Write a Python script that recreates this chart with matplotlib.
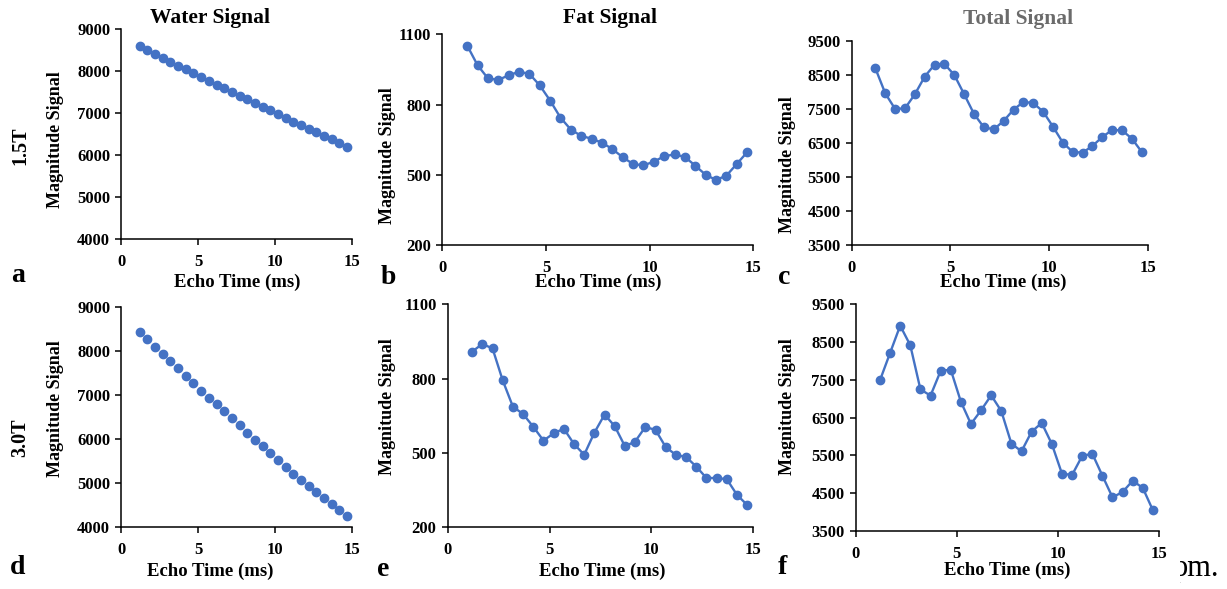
import matplotlib
matplotlib.use("Agg")
import matplotlib.pyplot as plt
from matplotlib.transforms import Bbox

# Echo times (ms)
echo_time = [1.2, 1.7, 2.2, 2.7, 3.2, 3.7, 4.2, 4.7, 5.2, 5.7, 6.2, 6.7, 7.2, 7.7,
             8.2, 8.7, 9.2, 9.7, 10.2, 10.7, 11.2, 11.7, 12.2, 12.7, 13.2, 13.7, 14.2, 14.7]

# 1.5T signals
water_15 = [8596, 8501, 8406, 8303, 8216, 8128, 8041, 7954, 7867, 7764, 7677, 7590, 7502, 7415,
            7328, 7233, 7154, 7067, 6979, 6892, 6797, 6718, 6631, 6551, 6464, 6377, 6290, 6203]
fat_15 = [1052, 968, 912, 905, 925, 940, 931, 882, 817, 744, 693, 666, 654, 637,
          610, 575, 546, 540, 556, 579, 587, 576, 539, 500, 478, 496, 546, 596]
total_15 = [8705, 7968, 7507, 7526, 7939, 8459, 8813, 8832, 8508, 7939, 7359, 6966, 6907, 7153,
            7487, 7713, 7683, 7428, 6986, 6515, 6240, 6220, 6417, 6682, 6888, 6878, 6633, 6240]

# 3.0T signals
water_30 = [8418, 8260, 8086, 7927, 7769, 7603, 7437, 7270, 7089, 6938, 6787, 6628, 6469, 6311,
            6145, 5986, 5835, 5684, 5517, 5366, 5215, 5063, 4935, 4800, 4656, 4520, 4393, 4257]
fat_30 = [909, 940, 922, 793, 687, 657, 606, 550, 579, 598, 536, 493, 582, 655,
          608, 527, 546, 605, 593, 524, 492, 484, 445, 399, 399, 394, 331, 290]
total_30 = [7488, 8212, 8935, 8415, 7250, 7082, 7735, 7771, 6924, 6332, 6694, 7091, 6676, 5812,
            5609, 6129, 6359, 5803, 5018, 4982, 5485, 5547, 4965, 4391, 4532, 4832, 4638, 4047]

x_ticks = [0, 5, 10, 15]
water_ticks = [4000, 5000, 6000, 7000, 8000, 9000]
fat_ticks = [200, 500, 800, 1100]
total_ticks = [3500, 4500, 5500, 6500, 7500, 8500, 9500]

column_titles = ["Water Signal", "Fat Signal", "Total Signal"]
row_labels = ["1.5T", "3.0T"]
panel_letters = ["a", "b", "c", "d", "e", "f"]
x_label = "Echo Time (ms)"
y_label = "Magnitude Signal"

W, H = 1227, 589
LINE = "#4472C4"
SERIF = "Liberation Serif"

fig = plt.figure(figsize=(W / 100, H / 100), dpi=100)


def fx(x):
    return x / W


def fy(y):
    return 1 - y / H


def add_axes(x0, x1, y0, y1):
    return fig.add_axes([fx(x0), fy(y1), fx(x1) - fx(x0), fy(y0) - fy(y1)])


panels = [
    # (pixel box left, right, top, bottom), series, y ticks
    ((121.3, 351.7, 29.0, 239.3), water_15, water_ticks),
    ((442.3, 753.3, 34.3, 245.0), fat_15, fat_ticks),
    ((851.7, 1147.7, 41.3, 245.0), total_15, total_ticks),
    ((121.3, 351.7, 306.7, 527.3), water_30, water_ticks),
    ((447.7, 753.3, 304.3, 527.3), fat_30, fat_ticks),
    ((855.7, 1159.0, 304.3, 531.0), total_30, total_ticks),
]

for idx, (box, series, yt) in enumerate(panels):
    ax = add_axes(*box)
    is_water = idx % 3 == 0
    ax.plot(echo_time, series, color=LINE, lw=0 if is_water else 1.7,
            marker="o", ms=6, mec=LINE, mfc=LINE, zorder=3)
    ax.set_xlim(0, 15)
    ax.set_ylim(yt[0], yt[-1])
    ax.set_xticks(x_ticks)
    ax.set_yticks(yt)
    for s in ("top", "right"):
        ax.spines[s].set_visible(False)
    for s in ("left", "bottom"):
        ax.spines[s].set_linewidth(1.1)
        ax.spines[s].set_color("black")
    ax.tick_params(axis="x", direction="out", length=4.5, width=1.1, pad=6)
    ax.tick_params(axis="y", direction="out", length=4, width=1.1, pad=4)
    for lab in ax.get_xticklabels() + ax.get_yticklabels():
        lab.set_fontfamily(SERIF)
        lab.set_fontweight("bold")
        lab.set_fontsize(12)
    ax.set_facecolor("none")

txt = dict(family=SERIF, weight="bold", ha="center", va="center")

# column headings
fig.text(fx(210), fy(18), column_titles[0], fontsize=15.5, color="black", **txt)
fig.text(fx(610), fy(18), column_titles[1], fontsize=15.5, color="black", **txt)
fig.text(fx(1018), fy(19), column_titles[2], fontsize=15.5, color="#6b6b6b", **txt)

# field strength row labels
fig.text(fx(20), fy(146), row_labels[0], fontsize=14.5, rotation=90, **txt)
fig.text(fx(20), fy(438), row_labels[1], fontsize=14.5, rotation=90, **txt)

# y-axis labels
for xp, yp in [(55, 140), (387, 156), (787, 165), (55, 409), (387, 407), (787, 407)]:
    fig.text(fx(xp), fy(yp), y_label, fontsize=13, rotation=90, **txt)

# x-axis labels
for xp, yp in [(237, 282), (598, 282), (1003, 282), (210, 571), (602, 571), (1007, 570)]:
    fig.text(fx(xp), fy(yp), x_label, fontsize=13.5, **txt)

# panel letters
for letter, (xp, yp) in zip(panel_letters, [(18, 276), (388, 277), (784, 277),
                                            (18, 567), (383, 570), (782, 567)]):
    fig.text(fx(xp), fy(yp), letter, fontsize=20, **txt)

# trailing caption fragment at the lower right edge
frag = fig.text(fx(1173), fy(576), "pm.", fontsize=22, family=SERIF,
                ha="left", va="baseline", color="black")
frag.set_clip_box(Bbox.from_extents(1179.5, 0, W, H))
frag.set_clip_on(True)

fig.savefig("out.png", dpi=100)
